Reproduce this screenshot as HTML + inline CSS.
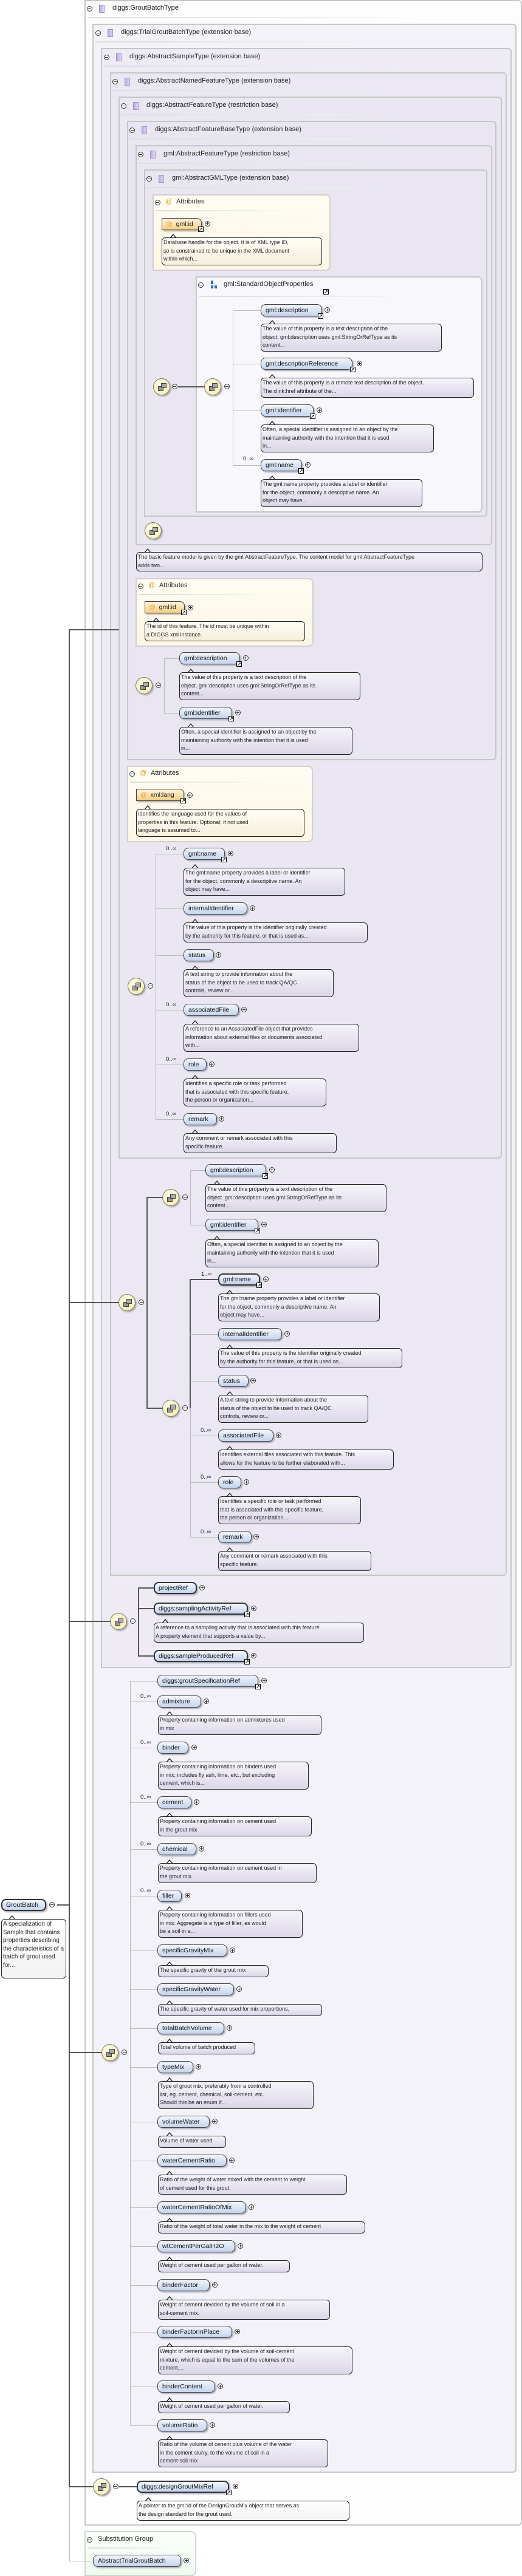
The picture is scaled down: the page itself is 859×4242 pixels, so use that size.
<!DOCTYPE html>
<html><head><meta charset="utf-8">
<style>
*{margin:0;padding:0;box-sizing:border-box}
body{width:859px;height:4240px;position:relative;background:#fff;font-family:"Liberation Sans",sans-serif;color:#222;overflow:hidden}
.bx{position:absolute;border:2px solid #c6c6c6;border-radius:0 6px 6px 0}
.hdr{position:absolute;font-size:11px;white-space:nowrap;color:#222}
.ul{position:absolute;height:2px;background:linear-gradient(90deg,#ddd,#eee 70%,rgba(238,238,238,0))}
.ic{position:absolute;width:9px;height:13px;background:linear-gradient(90deg,#b9aee0,#ddd6f3);border:1px solid #9d92c5}
.m{position:absolute;width:9px;height:9px;border:1px solid #333;border-radius:50%;background:#fff}
.m::after{content:"";position:absolute;left:1px;top:3px;width:5px;height:1px;background:#333}
.p{position:absolute;width:9px;height:9px;border:1px solid #333;border-radius:50%;background:#fff}
.p::after{content:"";position:absolute;left:1px;top:3px;width:5px;height:1px;background:#333}
.p::before{content:"";position:absolute;left:3px;top:1px;width:1px;height:5px;background:#333}
.e{position:absolute;height:20px;line-height:18px;padding-left:7px;border:1px solid #444;border-radius:8px;background:linear-gradient(#f1f5fc,#c4d4ee);font-size:10.5px;white-space:nowrap;box-shadow:2px 2px 2px #a9a9b5;color:#111}
.e.r{border:2px solid #333;line-height:16px;padding-left:6px}
.a{position:absolute;height:20px;line-height:18px;padding-left:6px;border:1px solid #444;border-radius:0 8px 0 0;background:linear-gradient(#fff4dc,#f6cf87);font-size:10.5px;white-space:nowrap;box-shadow:2px 2px 2px #b5aa9a}
.a b{color:#e69b2a;font-weight:normal;margin-right:6px}
.lk{position:absolute;width:9px;height:9px;background:#fff;border:1px solid #000;font-size:8px;line-height:7px;text-align:center;font-weight:bold}
.b{position:absolute;border:1px solid #222;border-radius:6px;background:linear-gradient(#f6f4fa,#dcd7e8);font-size:9px;line-height:13.5px;padding:1px 2px;color:#222;overflow:hidden;white-space:nowrap}
.b.y{background:linear-gradient(#fffdf6,#f6efdc)}
.b.w{background:linear-gradient(#fff,#f3f3f3);white-space:normal}
.t{position:absolute;width:0;height:0;border-left:6px solid transparent;border-right:6px solid transparent;border-bottom:7px solid #222}
.t::after{content:"";position:absolute;left:-5px;top:1.5px;border-left:5px solid transparent;border-right:5px solid transparent;border-bottom:6px solid #f6f4fa}
.mu{position:absolute;font-size:9.5px;white-space:nowrap}
.h{position:absolute;height:0;border-top:1px solid #bbb}
.v{position:absolute;width:0;border-left:1px solid #bbb}
.hd{position:absolute;height:0;border-top:2px solid #555}
.vd{position:absolute;width:0;border-left:2px solid #555}
.s{position:absolute;width:28px;height:28px;border-radius:50%;border:1px solid #777;background:radial-gradient(circle at 40% 35%,#fffde6,#f3eaa8);box-shadow:2px 2px 2px #aaa}
.s::before{content:"";position:absolute;left:7px;top:12px;width:7px;height:6px;background:#999;border:1px solid #444}
.s::after{content:"";position:absolute;left:12px;top:7px;width:7px;height:6px;background:#aaa;border:1px solid #444}
.att{position:absolute;border:2px solid #d2d0cc;border-radius:0 8px 8px 0;background:linear-gradient(#fffcf3,#fcf6e6)}
</style></head><body>

<div class="bx" style="left:139px;top:0;width:720px;height:4159px;background:#fdfdfe"></div>
<div class="bx" style="left:152px;top:39px;width:698px;height:4033px;background:#f4f2f9"></div>
<div class="bx" style="left:166px;top:79px;width:676px;height:2668px;background:#eeebf5"></div>
<div class="bx" style="left:181px;top:119px;width:653px;height:2476px;background:#ebe8f3"></div>
<div class="bx" style="left:195px;top:159px;width:631px;height:1749px;background:#eae7f2"></div>
<div class="bx" style="left:209px;top:199px;width:608px;height:1053px;background:#e9e6f1"></div>
<div class="bx" style="left:223px;top:239px;width:587px;height:659px;background:#e9e6f1"></div>
<div class="bx" style="left:237px;top:279px;width:565px;height:572px;background:#e9e6f1"></div>

<div class="m" style="left:143px;top:10px"></div><div class="ic" style="left:163px;top:8px"></div><div class="hdr" style="left:185px;top:7px">diggs:GroutBatchType</div><div class="ul" style="left:144px;top:28px;width:540px"></div>
<div class="m" style="left:157px;top:50px"></div><div class="ic" style="left:177px;top:48px"></div><div class="hdr" style="left:199px;top:47px">diggs:TrialGroutBatchType (extension base)</div><div class="ul" style="left:157px;top:68px;width:520px"></div>
<div class="m" style="left:171px;top:90px"></div><div class="ic" style="left:191px;top:88px"></div><div class="hdr" style="left:213px;top:87px">diggs:AbstractSampleType (extension base)</div><div class="ul" style="left:171px;top:108px;width:505px"></div>
<div class="m" style="left:185px;top:130px"></div><div class="ic" style="left:205px;top:128px"></div><div class="hdr" style="left:227px;top:127px">diggs:AbstractNamedFeatureType (extension base)</div><div class="ul" style="left:185px;top:148px;width:490px"></div>
<div class="m" style="left:199px;top:170px"></div><div class="ic" style="left:219px;top:168px"></div><div class="hdr" style="left:241px;top:167px">diggs:AbstractFeatureType (restriction base)</div><div class="ul" style="left:199px;top:188px;width:475px"></div>
<div class="m" style="left:213px;top:210px"></div><div class="ic" style="left:233px;top:208px"></div><div class="hdr" style="left:255px;top:207px">diggs:AbstractFeatureBaseType (extension base)</div><div class="ul" style="left:213px;top:228px;width:460px"></div>
<div class="m" style="left:227px;top:250px"></div><div class="ic" style="left:247px;top:248px"></div><div class="hdr" style="left:269px;top:247px">gml:AbstractFeatureType (restriction base)</div><div class="ul" style="left:227px;top:268px;width:445px"></div>
<div class="m" style="left:241px;top:290px"></div><div class="ic" style="left:261px;top:288px"></div><div class="hdr" style="left:283px;top:287px">gml:AbstractGMLType (extension base)</div><div class="ul" style="left:241px;top:308px;width:420px"></div>

<div class="att" style="left:251px;top:320px;width:293px;height:126px"></div>
<div class="m" style="left:255px;top:329px"></div><div class="hdr" style="left:272px;top:326px;color:#e69b2a">@</div><div class="hdr" style="left:290px;top:326px">Attributes</div><div class="ul" style="left:256px;top:346px;width:220px"></div>
<div class="a" style="left:266px;top:359px;width:66px"><b>@</b>gml:id</div><div class="lk" style="left:326px;top:373px">↗</div><div class="p" style="left:337px;top:364px"></div>
<div class="t" style="left:279px;top:385px"></div><div class="b y" style="left:266px;top:391px;width:264px;height:46px">Database handle for the object. It is of XML type ID,<br>so is constrained to be unique in the XML document<br>within which...</div>

<div class="bx" style="left:322px;top:455px;width:472px;height:389px;background:#f8f8fc;border-radius:0 8px 8px 0"></div>
<div class="m" style="left:326px;top:465px"></div>
<div style="position:absolute;left:347px;top:462px;width:4px;height:6px;background:#2a6fc0"></div><div style="position:absolute;left:347px;top:470px;width:4px;height:5px;background:#2a6fc0"></div><div style="position:absolute;left:353px;top:470px;width:4px;height:5px;background:#2a6fc0"></div>
<div class="hdr" style="left:368px;top:462px">gml:StandardObjectProperties</div><div class="lk" style="left:532px;top:476px">↗</div><div class="ul" style="left:327px;top:487px;width:350px"></div>

<div class="s" style="left:252px;top:623px"></div><div class="m" style="left:283px;top:632px"></div>
<div class="hd" style="left:293px;top:636px;width:44px"></div>
<div class="s" style="left:336px;top:623px"></div><div class="m" style="left:369px;top:632px"></div>
<div class="v" style="left:383px;top:511px;height:255px"></div>
<div class="h" style="left:383px;top:511px;width:46px"></div><div class="h" style="left:383px;top:599px;width:46px"></div><div class="h" style="left:383px;top:676px;width:46px"></div><div class="h" style="left:383px;top:766px;width:46px"></div>

<div class="e" style="left:429px;top:501px;width:101px">gml:description</div><div class="lk" style="left:523px;top:516px">↗</div><div class="p" style="left:534px;top:506px"></div>
<div class="t" style="left:442px;top:527px"></div><div class="b" style="left:429px;top:533px;width:298px;height:46px">The value of this property is a text description of the<br>object. gml:description uses gml:StringOrRefType as its<br>content...</div>
<div class="e" style="left:429px;top:589px;width:151px">gml:descriptionReference</div><div class="lk" style="left:576px;top:604px">↗</div><div class="p" style="left:587px;top:594px"></div>
<div class="t" style="left:442px;top:616px"></div><div class="b" style="left:429px;top:622px;width:351px;height:33px">The value of this property is a remote text description of the object.<br>The xlink:href attribute of the...</div>
<div class="e" style="left:429px;top:666px;width:87px">gml:identifier</div><div class="lk" style="left:510px;top:681px">↗</div><div class="p" style="left:521px;top:671px"></div>
<div class="t" style="left:442px;top:693px"></div><div class="b" style="left:429px;top:699px;width:285px;height:46px">Often, a special identifier is assigned to an object by the<br>maintaining authority with the intention that it is used<br>in...</div>
<div class="mu" style="left:400px;top:750px">0..∞</div>
<div class="e" style="left:429px;top:756px;width:68px">gml:name</div><div class="lk" style="left:491px;top:771px">↗</div><div class="p" style="left:502px;top:761px"></div>
<div class="t" style="left:442px;top:783px"></div><div class="b" style="left:429px;top:789px;width:266px;height:46px">The gml:name property provides a label or identifier<br>for the object, commonly a descriptive name. An<br>object may have...</div>

<div class="s" style="left:238px;top:860px"></div>
<div class="t" style="left:237px;top:903px"></div><div class="b" style="left:224px;top:909px;width:570px;height:32px">The basic feature model is given by the gml:AbstractFeatureType. The content model for gml:AbstractFeatureType<br>adds two...</div>

<div class="att" style="left:223px;top:952px;width:293px;height:113px"></div>
<div class="m" style="left:227px;top:961px"></div><div class="hdr" style="left:244px;top:958px;color:#e69b2a">@</div><div class="hdr" style="left:262px;top:958px">Attributes</div><div class="ul" style="left:228px;top:978px;width:220px"></div>
<div class="a" style="left:238px;top:990px;width:66px"><b>@</b>gml:id</div><div class="lk" style="left:298px;top:1004px">↗</div><div class="p" style="left:309px;top:996px"></div>
<div class="t" style="left:251px;top:1017px"></div><div class="b y" style="left:238px;top:1023px;width:264px;height:33px">The id of this feature. The id must be unique within<br>a DIGGS xml instance.</div>

<div class="s" style="left:223px;top:1115px"></div><div class="m" style="left:256px;top:1124px"></div>
<div class="v" style="left:270px;top:1084px;height:90px"></div><div class="h" style="left:270px;top:1084px;width:25px"></div><div class="h" style="left:270px;top:1174px;width:25px"></div>
<div class="e" style="left:295px;top:1074px;width:100px">gml:description</div><div class="lk" style="left:389px;top:1089px">↗</div><div class="p" style="left:400px;top:1079px"></div>
<div class="t" style="left:308px;top:1101px"></div><div class="b" style="left:295px;top:1107px;width:298px;height:46px">The value of this property is a text description of the<br>object. gml:description uses gml:StringOrRefType as its<br>content...</div>
<div class="e" style="left:295px;top:1164px;width:87px">gml:identifier</div><div class="lk" style="left:376px;top:1179px">↗</div><div class="p" style="left:387px;top:1169px"></div>
<div class="t" style="left:308px;top:1191px"></div><div class="b" style="left:295px;top:1197px;width:285px;height:46px">Often, a special identifier is assigned to an object by the<br>maintaining authority with the intention that it is used<br>in...</div>

<div class="att" style="left:209px;top:1261px;width:306px;height:126px"></div>
<div class="m" style="left:213px;top:1270px"></div><div class="hdr" style="left:230px;top:1267px;color:#e69b2a">@</div><div class="hdr" style="left:248px;top:1267px">Attributes</div><div class="ul" style="left:214px;top:1287px;width:230px"></div>
<div class="a" style="left:224px;top:1299px;width:79px"><b>@</b>xml:lang</div><div class="lk" style="left:297px;top:1314px">↗</div><div class="p" style="left:308px;top:1305px"></div>
<div class="t" style="left:237px;top:1326px"></div><div class="b y" style="left:224px;top:1332px;width:277px;height:46px">Identifies the language used for the values of<br>properties in this feature. Optional; if not used<br>language is assumed to...</div>

<div class="s" style="left:210px;top:1610px"></div><div class="m" style="left:243px;top:1619px"></div>
<div class="v" style="left:256px;top:1406px;height:437px"></div>
<div class="h" style="left:256px;top:1406px;width:46px"></div><div class="h" style="left:256px;top:1496px;width:46px"></div><div class="h" style="left:256px;top:1573px;width:46px"></div><div class="h" style="left:256px;top:1663px;width:46px"></div><div class="h" style="left:256px;top:1753px;width:46px"></div><div class="h" style="left:256px;top:1843px;width:46px"></div>
<div class="mu" style="left:273px;top:1392px">0..∞</div>
<div class="e" style="left:302px;top:1396px;width:68px">gml:name</div><div class="lk" style="left:364px;top:1411px">↗</div><div class="p" style="left:375px;top:1401px"></div>
<div class="t" style="left:315px;top:1423px"></div><div class="b" style="left:302px;top:1429px;width:266px;height:46px">The gml:name property provides a label or identifier<br>for the object, commonly a descriptive name. An<br>object may have...</div>
<div class="e" style="left:302px;top:1486px;width:105px">internalIdentifier</div><div class="p" style="left:411px;top:1491px"></div>
<div class="t" style="left:315px;top:1513px"></div><div class="b" style="left:302px;top:1519px;width:303px;height:33px">The value of this property is the identifier originally created<br>by the authority for this feature, or that is used as...</div>
<div class="e" style="left:302px;top:1563px;width:50px">status</div><div class="p" style="left:355px;top:1568px"></div>
<div class="t" style="left:315px;top:1590px"></div><div class="b" style="left:302px;top:1596px;width:247px;height:46px">A text string to provide information about the<br>status of the object to be used to track QA/QC<br>controls, review or...</div>
<div class="mu" style="left:273px;top:1649px">0..∞</div>
<div class="e" style="left:302px;top:1653px;width:91px">associatedFile</div><div class="p" style="left:397px;top:1658px"></div>
<div class="t" style="left:315px;top:1680px"></div><div class="b" style="left:302px;top:1686px;width:289px;height:46px">A reference to an AssociatedFile object that provides<br>information about external files or documents associated<br>with...</div>
<div class="mu" style="left:273px;top:1739px">0..∞</div>
<div class="e" style="left:302px;top:1743px;width:38px">role</div><div class="p" style="left:344px;top:1748px"></div>
<div class="t" style="left:315px;top:1770px"></div><div class="b" style="left:302px;top:1776px;width:235px;height:46px">Identifies a specific role or task performed<br>that is associated with this specific feature,<br>the person or organization...</div>
<div class="mu" style="left:273px;top:1829px">0..∞</div>
<div class="e" style="left:302px;top:1833px;width:55px">remark</div><div class="p" style="left:360px;top:1838px"></div>
<div class="t" style="left:315px;top:1860px"></div><div class="b" style="left:302px;top:1866px;width:252px;height:33px">Any comment or remark associated with this<br>specific feature.</div>

<div class="s" style="left:195px;top:2131px"></div><div class="m" style="left:228px;top:2140px"></div>
<div class="vd" style="left:241px;top:1972px;height:347px"></div>
<div class="hd" style="left:241px;top:1971px;width:27px"></div><div class="hd" style="left:241px;top:2318px;width:27px"></div>
<div class="s" style="left:267px;top:1958px"></div><div class="m" style="left:300px;top:1967px"></div>
<div class="s" style="left:267px;top:2305px"></div><div class="m" style="left:300px;top:2314px"></div>
<div class="v" style="left:313px;top:1927px;height:90px"></div><div class="h" style="left:313px;top:1927px;width:25px"></div><div class="h" style="left:313px;top:2017px;width:25px"></div>
<div class="e" style="left:338px;top:1917px;width:100px">gml:description</div><div class="lk" style="left:432px;top:1932px">↗</div><div class="p" style="left:443px;top:1922px"></div>
<div class="t" style="left:351px;top:1944px"></div><div class="b" style="left:338px;top:1950px;width:298px;height:46px">The value of this property is a text description of the<br>object. gml:description uses gml:StringOrRefType as its<br>content...</div>
<div class="e" style="left:338px;top:2007px;width:87px">gml:identifier</div><div class="lk" style="left:419px;top:2022px">↗</div><div class="p" style="left:430px;top:2012px"></div>
<div class="t" style="left:351px;top:2035px"></div><div class="b" style="left:338px;top:2041px;width:285px;height:46px">Often, a special identifier is assigned to an object by the<br>maintaining authority with the intention that it is used<br>in...</div>

<div class="vd" style="left:312px;top:2107px;height:212px"></div><div class="v" style="left:313px;top:2319px;height:212px"></div>
<div class="hd" style="left:312px;top:2106px;width:47px"></div>
<div class="h" style="left:313px;top:2197px;width:46px"></div><div class="h" style="left:313px;top:2274px;width:46px"></div><div class="h" style="left:313px;top:2364px;width:46px"></div><div class="h" style="left:313px;top:2441px;width:46px"></div><div class="h" style="left:313px;top:2531px;width:46px"></div>
<div class="mu" style="left:331px;top:2093px">1..∞</div>
<div class="e r" style="left:359px;top:2097px;width:69px">gml:name</div><div class="lk" style="left:422px;top:2112px">↗</div><div class="p" style="left:433px;top:2102px"></div>
<div class="t" style="left:372px;top:2124px"></div><div class="b" style="left:359px;top:2130px;width:266px;height:46px">The gml:name property provides a label or identifier<br>for the object, commonly a descriptive name. An<br>object may have...</div>
<div class="e" style="left:359px;top:2187px;width:105px">internalIdentifier</div><div class="p" style="left:468px;top:2192px"></div>
<div class="t" style="left:372px;top:2214px"></div><div class="b" style="left:359px;top:2220px;width:303px;height:33px">The value of this property is the identifier originally created<br>by the authority for this feature, or that is used as...</div>
<div class="e" style="left:359px;top:2264px;width:50px">status</div><div class="p" style="left:412px;top:2269px"></div>
<div class="t" style="left:372px;top:2291px"></div><div class="b" style="left:359px;top:2297px;width:247px;height:46px">A text string to provide information about the<br>status of the object to be used to track QA/QC<br>controls, review or...</div>
<div class="mu" style="left:330px;top:2350px">0..∞</div>
<div class="e" style="left:359px;top:2354px;width:91px">associatedFile</div><div class="p" style="left:454px;top:2359px"></div>
<div class="t" style="left:372px;top:2381px"></div><div class="b" style="left:359px;top:2387px;width:289px;height:33px">Identifies external files associated with this feature. This<br>allows for the feature to be further elaborated with...</div>
<div class="mu" style="left:330px;top:2427px">0..∞</div>
<div class="e" style="left:359px;top:2431px;width:38px">role</div><div class="p" style="left:401px;top:2436px"></div>
<div class="t" style="left:372px;top:2458px"></div><div class="b" style="left:359px;top:2464px;width:235px;height:46px">Identifies a specific role or task performed<br>that is associated with this specific feature,<br>the person or organization...</div>
<div class="mu" style="left:330px;top:2517px">0..∞</div>
<div class="e" style="left:359px;top:2521px;width:55px">remark</div><div class="p" style="left:417px;top:2526px"></div>
<div class="t" style="left:372px;top:2548px"></div><div class="b" style="left:359px;top:2554px;width:252px;height:33px">Any comment or remark associated with this<br>specific feature.</div>

<div class="s" style="left:181px;top:2656px"></div><div class="m" style="left:214px;top:2665px"></div>
<div class="vd" style="left:227px;top:2615px;height:112px"></div>
<div class="hd" style="left:227px;top:2614px;width:26px"></div><div class="hd" style="left:227px;top:2648px;width:26px"></div><div class="hd" style="left:227px;top:2726px;width:26px"></div>
<div class="e r" style="left:253px;top:2605px;width:71px">projectRef</div><div class="p" style="left:328px;top:2610px"></div>
<div class="e r" style="left:253px;top:2639px;width:155px">diggs:samplingActivityRef</div><div class="lk" style="left:402px;top:2654px">↗</div><div class="p" style="left:413px;top:2644px"></div>
<div class="t" style="left:266px;top:2666px"></div><div class="b" style="left:253px;top:2672px;width:346px;height:33px">A reference to a sampling activity that is associated with this feature.<br>A property element that supports a value by...</div>
<div class="e r" style="left:253px;top:2717px;width:155px">diggs:sampleProducedRef</div><div class="lk" style="left:402px;top:2732px">↗</div><div class="p" style="left:413px;top:2722px"></div>

<div class="s" style="left:167px;top:3366px"></div><div class="m" style="left:200px;top:3375px"></div>
<div class="v" style="left:214px;top:2768px;height:1226px"></div>
<div class="h" style="left:214px;top:2768px;width:46px"></div>
<div class="e" style="left:259px;top:2758px;width:166px">diggs:groutSpecificationRef</div><div class="lk" style="left:420px;top:2773px">↗</div><div class="p" style="left:430px;top:2763px"></div>

<div class="h" style="left:214px;top:2802px;width:46px"></div><div class="mu" style="left:231px;top:2788px">0..∞</div>
<div class="e" style="left:259px;top:2792px;width:72px">admixture</div><div class="p" style="left:335px;top:2797px"></div>
<div class="t" style="left:273px;top:2818px"></div><div class="b" style="left:260px;top:2824px;width:269px;height:33px">Property containing information on admixtures used<br>in mix</div>

<div class="h" style="left:214px;top:2878px;width:46px"></div><div class="mu" style="left:231px;top:2864px">0..∞</div>
<div class="e" style="left:259px;top:2868px;width:51px">binder</div><div class="p" style="left:315px;top:2873px"></div>
<div class="t" style="left:273px;top:2895px"></div><div class="b" style="left:260px;top:2901px;width:248px;height:46px">Property containing information on binders used<br>in mix; includes fly ash, lime, etc., but excluding<br>cement, which is...</div>

<div class="h" style="left:214px;top:2968px;width:46px"></div><div class="mu" style="left:231px;top:2954px">0..∞</div>
<div class="e" style="left:259px;top:2958px;width:56px">cement</div><div class="p" style="left:319px;top:2963px"></div>
<div class="t" style="left:273px;top:2985px"></div><div class="b" style="left:260px;top:2991px;width:253px;height:33px">Property containing information on cement used<br>in the grout mix</div>

<div class="h" style="left:214px;top:3045px;width:46px"></div><div class="mu" style="left:231px;top:3031px">0..∞</div>
<div class="e" style="left:259px;top:3035px;width:64px">chemical</div><div class="p" style="left:327px;top:3040px"></div>
<div class="t" style="left:273px;top:3062px"></div><div class="b" style="left:260px;top:3068px;width:261px;height:33px">Property containing information on cement used in<br>the grout mix</div>

<div class="h" style="left:214px;top:3122px;width:46px"></div><div class="mu" style="left:231px;top:3108px">0..∞</div>
<div class="e" style="left:259px;top:3112px;width:40px">filler</div><div class="p" style="left:304px;top:3117px"></div>
<div class="t" style="left:273px;top:3139px"></div><div class="b" style="left:260px;top:3145px;width:238px;height:46px">Property containing information on fillers used<br>in mix. Aggregate is a type of filler, as would<br>be a soil in a...</div>

<div class="h" style="left:214px;top:3212px;width:46px"></div>
<div class="e" style="left:259px;top:3202px;width:115px">specificGravityMix</div><div class="p" style="left:378px;top:3207px"></div>
<div class="t" style="left:273px;top:3230px"></div><div class="b" style="left:260px;top:3236px;width:182px;height:20px">The specific gravity of the grout mix</div>

<div class="h" style="left:214px;top:3276px;width:46px"></div>
<div class="e" style="left:259px;top:3266px;width:126px">specificGravityWater</div><div class="p" style="left:389px;top:3271px"></div>
<div class="t" style="left:273px;top:3294px"></div><div class="b" style="left:260px;top:3300px;width:270px;height:20px">The specific gravity of water used for mix proportions,</div>

<div class="h" style="left:214px;top:3340px;width:46px"></div>
<div class="e" style="left:259px;top:3330px;width:110px">totalBatchVolume</div><div class="p" style="left:373px;top:3335px"></div>
<div class="t" style="left:273px;top:3357px"></div><div class="b" style="left:260px;top:3363px;width:160px;height:20px">Total volume of batch produced</div>

<div class="h" style="left:214px;top:3404px;width:46px"></div>
<div class="e" style="left:259px;top:3394px;width:59px">typeMix</div><div class="p" style="left:322px;top:3399px"></div>
<div class="t" style="left:273px;top:3421px"></div><div class="b" style="left:260px;top:3427px;width:256px;height:46px">Type of grout mix; preferably from a controlled<br>list, eg. cement, chemical, soil-cement, etc.<br>Should this be an enum if...</div>

<div class="h" style="left:214px;top:3494px;width:46px"></div>
<div class="e" style="left:259px;top:3484px;width:86px">volumeWater</div><div class="p" style="left:349px;top:3489px"></div>
<div class="t" style="left:273px;top:3511px"></div><div class="b" style="left:260px;top:3517px;width:112px;height:20px">Volume of water used</div>

<div class="h" style="left:214px;top:3558px;width:46px"></div>
<div class="e" style="left:259px;top:3548px;width:114px">waterCementRatio</div><div class="p" style="left:377px;top:3553px"></div>
<div class="t" style="left:273px;top:3575px"></div><div class="b" style="left:260px;top:3581px;width:311px;height:33px">Ratio of the weight of water mixed with the cement to weight<br>of cement used for this grout.</div>

<div class="h" style="left:214px;top:3635px;width:46px"></div>
<div class="e" style="left:259px;top:3625px;width:146px">waterCementRatioOfMix</div><div class="p" style="left:409px;top:3630px"></div>
<div class="t" style="left:273px;top:3652px"></div><div class="b" style="left:260px;top:3658px;width:341px;height:20px">Ratio of the weight of total water in the mix to the weight of cement</div>

<div class="h" style="left:214px;top:3699px;width:46px"></div>
<div class="e" style="left:259px;top:3689px;width:128px">wtCementPerGalH2O</div><div class="p" style="left:391px;top:3694px"></div>
<div class="t" style="left:273px;top:3716px"></div><div class="b" style="left:260px;top:3722px;width:217px;height:20px">Weight of cement used per gallon of water.</div>

<div class="h" style="left:214px;top:3763px;width:46px"></div>
<div class="e" style="left:259px;top:3753px;width:86px">binderFactor</div><div class="p" style="left:349px;top:3758px"></div>
<div class="t" style="left:273px;top:3781px"></div><div class="b" style="left:260px;top:3787px;width:283px;height:33px">Weight of cement devided by the volume of soil in a<br>soil-cement mix.</div>

<div class="h" style="left:214px;top:3840px;width:46px"></div>
<div class="e" style="left:259px;top:3830px;width:123px">binderFactorInPlace</div><div class="p" style="left:386px;top:3835px"></div>
<div class="t" style="left:273px;top:3858px"></div><div class="b" style="left:260px;top:3864px;width:320px;height:46px">Weight of cement devided by the volume of soil-cement<br>mixture, which is equal to the sum of the volumes of the<br>cement,...</div>

<div class="h" style="left:214px;top:3930px;width:46px"></div>
<div class="e" style="left:259px;top:3920px;width:95px">binderContent</div><div class="p" style="left:358px;top:3925px"></div>
<div class="t" style="left:273px;top:3948px"></div><div class="b" style="left:260px;top:3954px;width:217px;height:20px">Weight of cement used per gallon of water.</div>

<div class="h" style="left:214px;top:3994px;width:46px"></div>
<div class="e" style="left:259px;top:3984px;width:82px">volumeRatio</div><div class="p" style="left:345px;top:3989px"></div>
<div class="t" style="left:273px;top:4011px"></div><div class="b" style="left:260px;top:4017px;width:280px;height:46px">Ratio of the volume of cenent plus volume of the water<br>in the cement slurry, to the volume of soil in a<br>cement-soil mix</div>

<div class="s" style="left:153px;top:4081px"></div><div class="m" style="left:186px;top:4090px"></div>
<div class="hd" style="left:196px;top:4094px;width:29px"></div>
<div class="e r" style="left:225px;top:4085px;width:152px">diggs:designGroutMixRef</div><div class="lk" style="left:372px;top:4100px">↗</div><div class="p" style="left:383px;top:4090px"></div>
<div class="t" style="left:238px;top:4112px"></div><div class="b w" style="left:225px;top:4118px;width:350px;height:33px">A pointer to the gml:id of the DesignGroutMix object that serves as<br>the design standard for the grout used.</div>

<div class="att" style="left:139px;top:4168px;width:184px;height:74px;background:linear-gradient(#fbfffb,#eefaee);border-color:#cfd6cf"></div>
<div class="m" style="left:143px;top:4178px"></div><div class="hdr" style="left:161px;top:4175px">Substitution Group</div><div class="ul" style="left:144px;top:4195px;width:140px"></div>
<div class="e" style="left:153px;top:4207px;width:145px">AbstractTrialGroutBatch</div><div class="p" style="left:302px;top:4212px"></div>

<div class="vd" style="left:113px;top:1037px;height:3058px"></div>
<div class="hd" style="left:113px;top:1036px;width:83px"></div>
<div class="hd" style="left:113px;top:2144px;width:83px"></div>
<div class="hd" style="left:113px;top:2669px;width:69px"></div>
<div class="hd" style="left:113px;top:3379px;width:55px"></div>
<div class="hd" style="left:113px;top:4094px;width:41px"></div>
<div class="hd" style="left:94px;top:3136px;width:20px"></div>
<div class="v" style="left:114px;top:4096px;height:121px"></div><div class="h" style="left:114px;top:4217px;width:39px"></div>

<div class="e r" style="left:2px;top:3127px;width:74px">GroutBatch</div><div class="m" style="left:81px;top:3132px"></div>
<div class="t" style="left:14px;top:3154px"></div><div class="b w" style="left:2px;top:3160px;width:107px;height:98px;font-size:10px">A specialization of Sample that contains properties describing the characteristics of a batch of grout used for...</div>

</body></html>
